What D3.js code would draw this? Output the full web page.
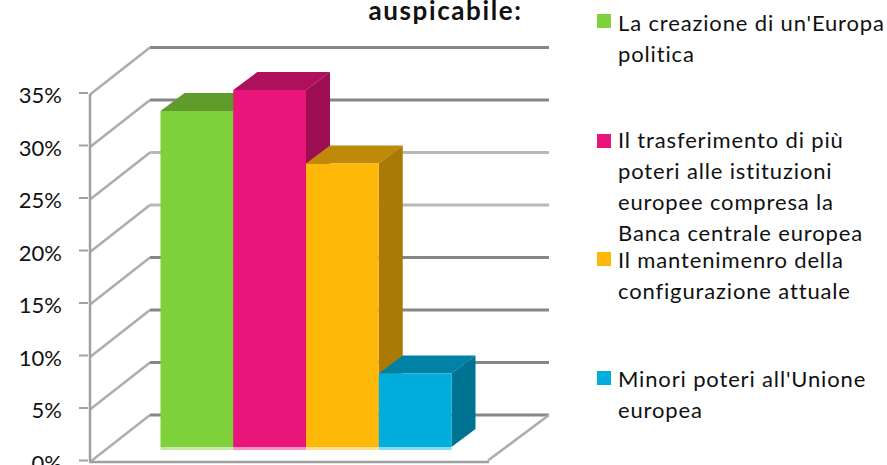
<!DOCTYPE html>
<html>
<head>
<meta charset="utf-8">
<script src="https://cdn.jsdelivr.net/npm/d3@7"></script>
<style>
  html, body { margin: 0; padding: 0; background: #fff; }
  svg { display: block; }
  text { font-family: Lato, "Open Sans", sans-serif; fill: #111; }
</style>
</head>
<body>
<div id="chart"></div>
<script>
const width = 887;
const height = 465;

const categories = ["creazione", "trasferimento", "mantenimento", "minori"];
const values = [32, 34, 27, 7];
const colors = ["#7fd13b", "#ea157a", "#feb80a", "#00addc"];
const tops = ["#5f9c2c", "#af105b", "#be8a07", "#0081a5"];
const sides = ["#558b27", "#9c0e51", "#a97b06", "#007393"];
const ticks = [0, 5, 10, 15, 20, 25, 30, 35];
const lightTicks = [20, 25];
const legendLines = [
    ["La creazione di un'Europa", "politica"],
    ["Il trasferimento di più", "poteri alle istituzioni", "europee compresa la", "Banca centrale europea"],
    ["Il mantenimenro della", "configurazione attuale"],
    ["Minori poteri all'Unione", "europea"]
];
const swatchY = [14, 134, 252, 371];
const legendBaseline = [31, 148, 268, 387];
const title = "auspicabile:";

const svg = d3.select("#chart").append("svg").attr("width", width).attr("height", height);

const y = d3.scaleLinear().domain([0, 35]).range([460.5, 93]);
const yBack = d3.scaleLinear().domain([0, 35]).range([415, 47.5]);
const x = d3.scaleBand().domain(categories).range([160.5, 451.5]);

// depth of the bars
const barDepthX = 24, barDepthY = -18, barOffset = -13.5;

// gridlines: diagonal on the side wall, then along the back wall
ticks.forEach(t => {
    svg.append("path")
       .attr("d", `M90,${y(t) + 1.5}L150,${yBack(t)}`)
       .attr("fill", "none").attr("stroke", "#adadad").attr("stroke-width", 2.5);
    svg.append("line")
       .attr("x1", 150).attr("x2", 549)
       .attr("y1", yBack(t)).attr("y2", yBack(t))
       .attr("stroke", lightTicks.includes(t) ? "#b8b8b8" : "#868686").attr("stroke-width", 3);
    svg.append("line")
       .attr("x1", 79).attr("x2", 88)
       .attr("y1", y(t)).attr("y2", y(t))
       .attr("stroke", "#a0a0a0").attr("stroke-width", 2);
    svg.append("text")
       .attr("x", 62).attr("y", y(t) + 10)
       .attr("text-anchor", "end")
       .style("font-size", "22px")
       .text(t + "%");
});

// axis and floor
svg.append("line").attr("x1", 90).attr("x2", 90).attr("y1", y(35) + 1).attr("y2", y(0) + 1)
   .attr("stroke", "#a0a0a0").attr("stroke-width", 2.5);
svg.append("line").attr("x1", 89).attr("x2", 489).attr("y1", y(0) + 1.5).attr("y2", y(0) + 1.5)
   .attr("stroke", "#a0a0a0").attr("stroke-width", 2.5);
svg.append("path").attr("d", `M488,${y(0)}L549,${yBack(0)}`)
   .attr("fill", "none").attr("stroke", "#adadad").attr("stroke-width", 2.5);

// bars
const bars = svg.selectAll("g.bar").data(categories).enter().append("g").attr("class", "bar");

bars.append("rect")
    .attr("x", d => x(d))
    .attr("y", y(0) + barOffset)
    .attr("width", x.bandwidth())
    .attr("height", 3)
    .attr("fill", (d, i) => colors[i])
    .attr("opacity", 0.45);

bars.append("path")
    .attr("fill", (d, i) => tops[i])
    .attr("d", (d, i) => {
        const x0 = x(d), x1 = x0 + x.bandwidth(), yt = y(values[i]) + barOffset;
        return `M${x0},${yt}L${x0 + barDepthX},${yt + barDepthY}L${x1 + barDepthX},${yt + barDepthY}L${x1},${yt}Z`;
    });

bars.append("path")
    .attr("fill", (d, i) => sides[i])
    .attr("d", (d, i) => {
        const x1 = x(d) + x.bandwidth(), yt = y(values[i]) + barOffset, yb = y(0) + barOffset;
        return `M${x1},${yt}L${x1 + barDepthX},${yt + barDepthY}L${x1 + barDepthX},${yb + barDepthY}L${x1},${yb}Z`;
    });

bars.append("rect")
    .attr("x", d => x(d))
    .attr("y", (d, i) => y(values[i]) + barOffset)
    .attr("width", x.bandwidth())
    .attr("height", (d, i) => y(0) - y(values[i]))
    .attr("fill", (d, i) => colors[i]);

// title, sits right against the top edge
svg.append("text")
   .attr("x", 445.5).attr("y", 20)
   .attr("text-anchor", "middle")
   .style("font-size", "26px")
   .style("font-weight", "700")
   .style("letter-spacing", "1.6px")
   .text(title);

// legend
legendLines.forEach((lines, i) => {
    svg.append("rect")
       .attr("x", 597).attr("y", swatchY[i])
       .attr("width", 14).attr("height", 14)
       .attr("fill", colors[i]);
    lines.forEach((line, j) => {
        svg.append("text")
           .attr("x", 618)
           .attr("y", legendBaseline[i] + j * 31)
           .style("font-size", "22px")
           .style("letter-spacing", "0.85px")
           .text(line);
    });
});
</script>
</body>
</html>
